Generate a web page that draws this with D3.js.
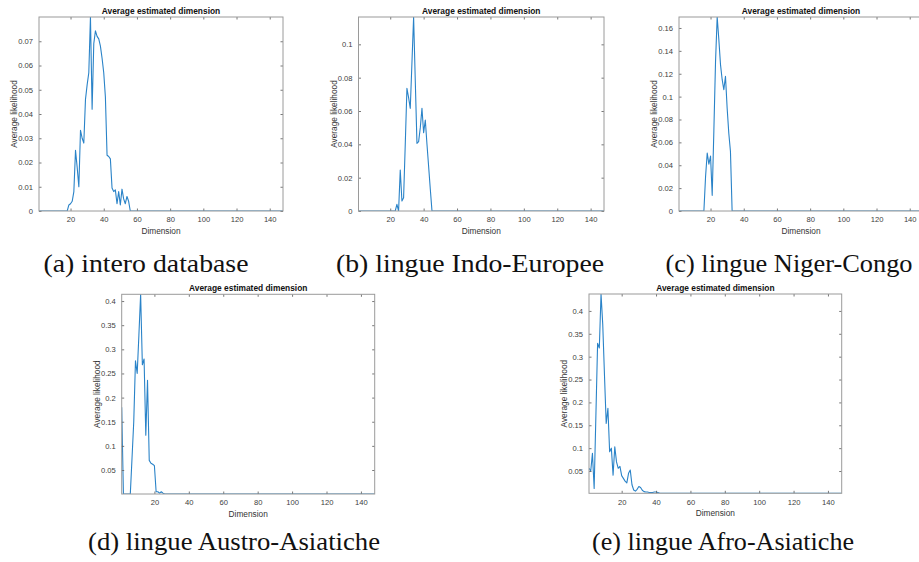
<!DOCTYPE html>
<html>
<head>
<meta charset="utf-8">
<script src="https://cdn.jsdelivr.net/npm/d3@7"></script>
<style>
    body { margin: 0; background: #fff; }
    svg { display: block; }
    .tick-label { font-family: "Liberation Sans", Arial, sans-serif; font-size: 7.6px; fill: #404040; }
    .axis-label { font-family: "Liberation Sans", Arial, sans-serif; font-size: 8.3px; fill: #333; }
    .plot-title { font-family: "Liberation Sans", Arial, sans-serif; font-size: 8.4px; font-weight: bold; fill: #111; }
    .caption { font-family: "Liberation Serif", "Times New Roman", serif; font-size: 25px; fill: #111; }
</style>
</head>
<body>
<svg id="chart" width="919" height="562"></svg>
<script>
// (a) intero database
const dimA = [1, 18, 19, 20, 21, 22, 23, 24, 25, 26, 27, 28, 29, 30, 31, 32, 33, 34, 35, 36, 37,
    38, 39, 40, 41, 42, 43, 44, 45, 46, 47, 48, 49, 50, 51, 52, 53, 54, 55, 56, 148];
const likA = [0, 0, 0.0025, 0.003, 0.004, 0.008, 0.025, 0.018, 0.010, 0.0333, 0.030, 0.028, 0.046,
    0.052, 0.057, 0.080, 0.042, 0.069, 0.0743, 0.072, 0.071, 0.068, 0.063, 0.057, 0.047, 0.023,
    0.0225, 0.0215, 0.0095, 0.008, 0.0087, 0.003, 0.008, 0.0025, 0.009, 0.005, 0.003, 0.006, 0.004, 0, 0];

// (b) lingue Indo-Europee
const dimB = [1, 23, 24, 25, 26, 27, 28, 29, 30, 31, 32, 33, 34, 35, 36, 37, 38, 39, 40, 41, 42, 43, 44, 45, 148];
const likB = [0, 0, 0.004, 0, 0.0246, 0.006, 0.008, 0.04, 0.0736, 0.068, 0.0616, 0.089, 0.1164, 0.078,
    0.0406, 0.0416, 0.05, 0.0616, 0.047, 0.0546, 0.04, 0.0266, 0.013, 0, 0];

// (c) lingue Niger-Congo
const dimC = [1, 16, 17, 18, 19, 20, 21, 22, 23, 24, 25, 26, 27, 28, 29, 30, 31, 32, 33, 148];
const likC = [0, 0, 0.03, 0.0507, 0.041, 0.048, 0.0137, 0.07, 0.13, 0.1696, 0.15, 0.128, 0.115, 0.106,
    0.1178, 0.09, 0.068, 0.052, 0, 0];

// (d) lingue Austro-Asiatiche
const dimD = [1, 2, 3, 4, 5, 6, 7, 8, 9, 10, 11, 12, 13, 14, 15, 16, 17, 18, 19, 20, 21, 22, 23, 24, 25, 26, 148];
const likD = [0.18, 0.0003, 0.0003, 0.0003, 0.0003, 0.0003, 0.075, 0.15, 0.276, 0.25, 0.33, 0.414, 0.268,
    0.28, 0.122, 0.236, 0.07, 0.064, 0.062, 0.059, 0.005, 0.005, 0.002, 0.005, 0.002, 0.0003, 0.0003];

// (e) lingue Afro-Asiatiche
const dimE = [1, 2, 3, 4, 5, 6, 7, 8, 9, 10, 11, 12, 13, 14, 15, 16, 17, 18, 19, 20, 21, 22, 23, 24, 25,
    26, 27, 28, 29, 30, 31, 32, 33, 34, 35, 36, 37, 38, 39, 40, 41, 42, 43, 148];
const likE = [0.056, 0.05, 0.0886, 0.012, 0.17, 0.329, 0.319, 0.437, 0.37, 0.26, 0.154, 0.187, 0.092, 0.1,
    0.041, 0.103, 0.07, 0.056, 0.06, 0.04, 0.034, 0.028, 0.024, 0.045, 0.052, 0.02, 0.0085, 0.006, 0.01,
    0.016, 0.014, 0.008, 0.005, 0.004, 0.004, 0.003, 0.003, 0.003, 0.004, 0.004, 0.003, 0.002, 0.0015, 0.0013];

const xTicks = [20, 40, 60, 80, 100, 120, 140];
const yTicksA = [0, 0.01, 0.02, 0.03, 0.04, 0.05, 0.06, 0.07];
const yTicksB = [0, 0.02, 0.04, 0.06, 0.08, 0.1];
const yTicksC = [0, 0.02, 0.04, 0.06, 0.08, 0.1, 0.12, 0.14, 0.16];
const yTicksD = [0.05, 0.1, 0.15, 0.2, 0.25, 0.3, 0.35, 0.4];
const yTicksE = [0.05, 0.1, 0.15, 0.2, 0.25, 0.3, 0.35, 0.4];

const xDomain = [1, 148];
const plotTitle = "Average estimated dimension";
const xLabel = "Dimension";
const yLabel = "Average likelihood";
const captions = ["(a) intero database", "(b) lingue Indo-Europee", "(c) lingue Niger-Congo",
    "(d) lingue Austro-Asiatiche", "(e) lingue Afro-Asiatiche"];

// layout of each subplot: box in page pixels, caption centre / baseline / width
const panels = [
    { dims: dimA, lik: likA, yTicks: yTicksA, box: [39, 17, 283, 211], cap: [146, 272, 205] },
    { dims: dimB, lik: likB, yTicks: yTicksB, box: [358.5, 17, 604, 211], cap: [470, 272, 268] },
    { dims: dimC, lik: likC, yTicks: yTicksC, box: [679, 17, 923, 211], cap: [789, 272, 247] },
    { dims: dimD, lik: likD, yTicks: yTicksD, box: [121.7, 294.3, 374.7, 494], cap: [234, 550, 292] },
    { dims: dimE, lik: likE, yTicks: yTicksE, box: [589, 294, 841.7, 493.3], cap: [723, 550, 262] }
];

const lineColor = "#2a83c8";
const boxColor = "#9a9a9a";
const tickLen = 2.5;

const svg = d3.select("#chart");

panels.forEach((p, i) => {
    const [x0, y0, x1, y1] = p.box;
    const x = d3.scaleLinear().domain(xDomain).range([x0, x1]);
    const y = d3.scaleLinear().domain(d3.extent(p.lik)).range([y1, y0]);
    const g = svg.append("g");

    g.append("clipPath")
        .attr("id", `clip-${i}`)
        .append("rect")
        .attr("x", x0).attr("y", y0)
        .attr("width", x1 - x0).attr("height", y1 - y0);

    g.append("rect")
        .attr("x", x0).attr("y", y0)
        .attr("width", x1 - x0).attr("height", y1 - y0)
        .attr("fill", "#fff");

    const pts = p.dims.map((d, k) => [d, p.lik[k]]);
    const line = d3.line()
        .x(d => x(d[0]))
        .y(d => y(d[1]));

    g.append("path")
        .datum(pts)
        .attr("clip-path", `url(#clip-${i})`)
        .attr("d", line)
        .attr("fill", "none")
        .attr("stroke", lineColor)
        .attr("stroke-width", 1.1)
        .attr("stroke-linejoin", "round");

    // bottom and left axes, ticks pointing in, mirrored on top / right
    const xAxis = g.append("g")
        .attr("transform", `translate(0,${y1})`)
        .call(d3.axisBottom(x).tickValues(xTicks).tickSize(-tickLen).tickPadding(6).tickFormat(d3.format("d")));
    const xAxisTop = g.append("g")
        .attr("transform", `translate(0,${y0})`)
        .call(d3.axisTop(x).tickValues(xTicks).tickSize(-tickLen).tickFormat(""));
    const yAxis = g.append("g")
        .attr("transform", `translate(${x0},0)`)
        .call(d3.axisLeft(y).tickValues(p.yTicks).tickSize(-tickLen).tickPadding(6).tickFormat(d3.format("~g")));
    const yAxisRight = g.append("g")
        .attr("transform", `translate(${x1},0)`)
        .call(d3.axisRight(y).tickValues(p.yTicks).tickSize(-tickLen).tickFormat(""));

    [xAxis, xAxisTop, yAxis, yAxisRight].forEach(a => {
        a.select(".domain").remove();
        a.selectAll(".tick line").attr("stroke", "#555").attr("stroke-width", 0.8);
        a.selectAll(".tick text").attr("class", "tick-label").attr("fill", null);
    });

    g.append("rect")
        .attr("x", x0).attr("y", y0)
        .attr("width", x1 - x0).attr("height", y1 - y0)
        .attr("fill", "none")
        .attr("stroke", boxColor)
        .attr("stroke-width", 1);

    g.append("text")
        .attr("class", "plot-title")
        .attr("x", (x0 + Math.min(x1, 919 + 4)) / 2)
        .attr("y", y0 - 3)
        .attr("text-anchor", "middle")
        .text(plotTitle);

    g.append("text")
        .attr("class", "axis-label")
        .attr("x", (x0 + x1) / 2)
        .attr("y", y1 + 22.5)
        .attr("text-anchor", "middle")
        .text(xLabel);

    g.append("text")
        .attr("class", "axis-label")
        .attr("transform", `translate(${x0 - 22},${(y0 + y1) / 2}) rotate(-90)`)
        .attr("text-anchor", "middle")
        .text(yLabel);

    svg.append("text")
        .attr("class", "caption")
        .attr("x", p.cap[0])
        .attr("y", p.cap[1])
        .attr("text-anchor", "middle")
        .attr("textLength", p.cap[2])
        .attr("lengthAdjust", "spacingAndGlyphs")
        .text(captions[i]);
});
</script>
</body>
</html>
